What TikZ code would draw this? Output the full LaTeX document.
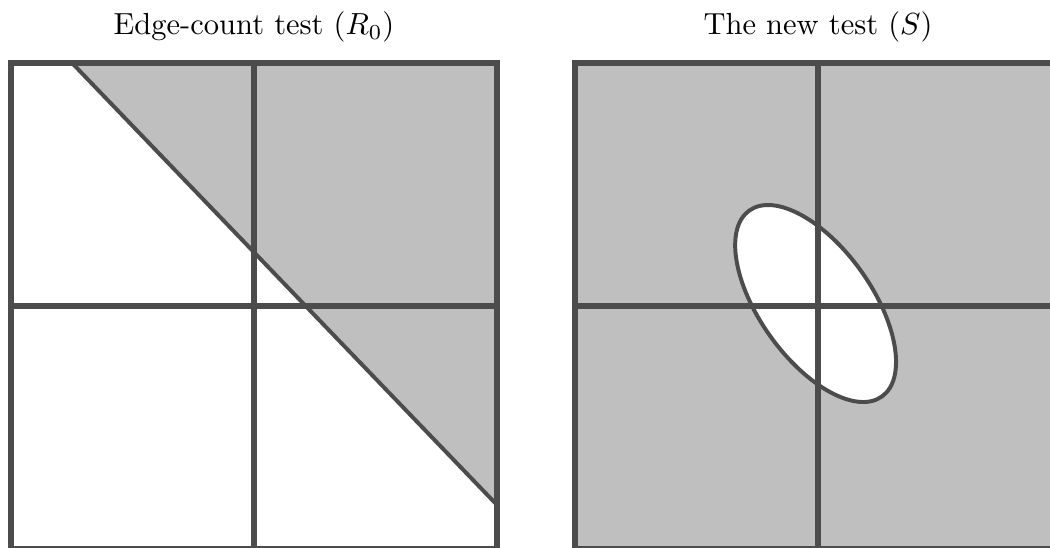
\documentclass[tikz,border=0pt]{standalone}
\usepackage{tikz}
\usetikzlibrary{positioning}

\begin{document}
\begin{tikzpicture}[x=1.4cm, y=1.4cm,
    gridline/.style={draw=black!70, line width=1.95pt},
    curveline/.style={draw=black!70, line width=1.3pt},
    shaded/.style={fill=black!25},
    paneltitle/.style={anchor=base, font=\normalsize}
]
    \clip (-0.0905,0.008) rectangle (8.551,4.518);
    % left panel: edge-count test
    \fill[shaded] (0.502,4) -- (4,4) -- (4,0.362) -- cycle;
    \draw[curveline] (0.502,4) -- (4,0.362);
    \draw[gridline] (0,0) rectangle (4,4);
    \draw[gridline] (2,0) -- (2,4) (0,2) -- (4,2);
    \node[paneltitle] (lefttitle) at (2,4.23) {Edge-count test ($R_0$)};
    % right panel: the new test
    \begin{scope}[shift={(4.642,0)}]
        \fill[shaded] (0,0) rectangle (4,4);
        \draw[curveline, fill=white, rotate around={-54.5:(1.98,2.02)}]
            (1.98,2.02) ellipse (0.94 and 0.46);
        \draw[gridline] (0,0) rectangle (4,4);
        \draw[gridline] (2,0) -- (2,4) (0,2) -- (4,2);
        \node[paneltitle] (righttitle) at (2,4.23) {The new test ($S$)};
    \end{scope}
\end{tikzpicture}
\end{document}
